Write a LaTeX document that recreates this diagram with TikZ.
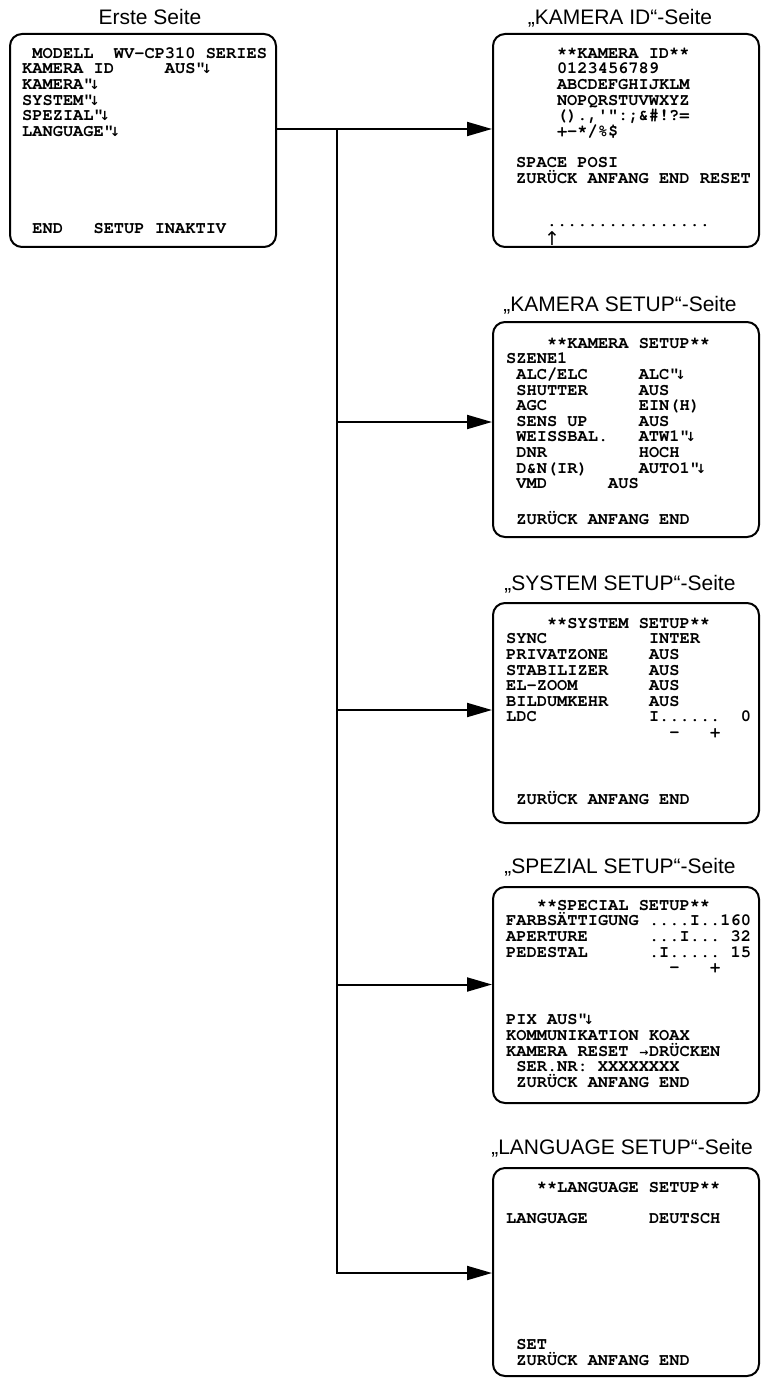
\documentclass[tikz,border=0pt]{standalone}
\usepackage{fontspec}
\setmainfont{Liberation Sans}
\setmonofont{texgyrecursor}[Extension=.otf, UprightFont=*-regular, BoldFont=*-bold]
\newfontfamily\arrfont{DejaVu Sans}
\usetikzlibrary{arrows.meta, positioning}

\newlength\cw
\setlength\cw{10.2pt}
\newcommand\ind[1]{\hspace*{#1\cw}}
\newcommand\ent{\makebox[\cw][l]{"\kern-4.2pt{\arrfont\bfseries\fontsize{12.5}{12}\selectfont ↓}}}
\newcommand\rarr{\makebox[\cw][c]{\arrfont\bfseries\fontsize{11}{11}\selectfont →}}

\tikzset{
  screen/.style={draw, line width=2pt, rounded corners=12pt, minimum width=266pt, inner sep=0pt},
  osd/.style={font={\ttfamily\bfseries\fontsize{17}{15.6}\selectfont\lineskiplimit=-\maxdimen\frenchspacing},
    align=left, inner sep=0pt, anchor=north west},
  pagetitle/.style={font=\fontsize{21}{24}\selectfont, inner sep=0pt, anchor=base},
  feed/.style={line width=2pt, -{Triangle[length=25pt, width=14pt]}},
}

\begin{document}
\begin{tikzpicture}[x=1pt, y=-1pt]
\useasboundingbox (0,0) rectangle (762,1380);

\node[pagetitle] (erste-t) at (150,24.5) {Erste Seite};
\node[screen, minimum height=213pt] (erste) at (143,140.5) {};
\node[osd] (erste-menu) at (22,47.1) {\strut\ind{1}MODELL~~WV-CP310~SERIES\\
  KAMERA~ID~~~~~AUS\ent\\
  KAMERA\ent\\
  SYSTEM\ent\\
  SPEZIAL\ent\\
  LANGUAGE\ent};
\node[osd] (erste-foot) at (22,222.1) {\strut\ind{1}END~~~SETUP~INAKTIV};

\node[pagetitle] (kid-t) at (620,24.5) {„KAMERA ID“-Seite};
\node[screen, minimum height=213pt] (kid) at (626,140.5) {};
\node[osd] (kid-chars) at (516,47.1) {\strut\ind{4}**KAMERA~ID**\\
  \ind{4}0123456789\\
  \ind{4}ABCDEFGHIJKLM\\
  \ind{4}NOPQRSTUVWXYZ\\
  \ind{4}().,'":;\&\#!?=\\
  \ind{4}+-*/\%\$\\[15.6pt]
  SPACE~POSI\\
  ZURÜCK~ANFANG~END~RESET};
\node[osd] (kid-dots) at (516,215.1) {\strut\ind{3}................};
\node[anchor=north, inner sep=0pt, font=\arrfont\fontsize{19}{19}\selectfont] (cursor) at (552,231) {↑};

\node[pagetitle] (kset-t) at (620,311.5) {„KAMERA SETUP“-Seite};
\node[screen, minimum height=215pt] (kset) at (626,429.5) {};
\node[osd] (kset-menu) at (506,337.1) {\strut\ind{4}**KAMERA~SETUP**\\
  SZENE1\\
  \ind{1}ALC/ELC~~~~~ALC\ent\\
  \ind{1}SHUTTER~~~~~AUS\\
  \ind{1}AGC~~~~~~~~~EIN(H)\\
  \ind{1}SENS~UP~~~~~AUS\\
  \ind{1}WEISSBAL.~~~ATW1\ent\\
  \ind{1}DNR~~~~~~~~~HOCH\\
  \ind{1}D\&N(IR)~~~~~AUTO1\ent\\
  \ind{1}VMD~~~~~~AUS};
\node[osd] (kset-foot) at (506,511.1) {\strut\ind{1}ZURÜCK~ANFANG~END};

\node[pagetitle] (sset-t) at (620,590.5) {„SYSTEM SETUP“-Seite};
\node[screen, minimum height=220pt] (sset) at (626,713) {};
\node[osd] (sset-menu) at (506,617.1) {\strut\ind{4}**SYSTEM~SETUP**\\
  SYNC~~~~~~~~~~INTER\\
  PRIVATZONE~~~~AUS\\
  STABILIZER~~~~AUS\\
  EL-ZOOM~~~~~~~AUS\\
  BILDUMKEHR~~~~AUS\\
  LDC~~~~~~~~~~~I......~~0\\
  \ind{16}-~~~+};
\node[osd] (sset-foot) at (506,791.1) {\strut\ind{1}ZURÜCK~ANFANG~END};

\node[pagetitle] (spset-t) at (620,873.5) {„SPEZIAL SETUP“-Seite};
\node[screen, minimum height=216pt] (spset) at (626,995) {};
\node[osd] (spset-menu) at (506,899.1) {\strut\ind{3}**SPECIAL~SETUP**\\
  FARBSÄTTIGUNG~....I..160\\
  APERTURE~~~~~~...I...~32\\
  PEDESTAL~~~~~~.I.....~15\\
  \ind{16}-~~~+};
\node[osd] (spset-foot) at (506,1013.7) {\strut PIX~AUS\ent\\
  KOMMUNIKATION~KOAX\\
  KAMERA~RESET~\rarr DRÜCKEN\\
  \ind{1}SER.NR:~XXXXXXXX\\
  \ind{1}ZURÜCK~ANFANG~END};

\node[pagetitle] (lset-t) at (622,1154.5) {„LANGUAGE SETUP“-Seite};
\node[screen, minimum height=208pt] (lset) at (626,1272) {};
\node[osd] (lset-menu) at (506,1181.1) {\strut\ind{3}**LANGUAGE~SETUP**\\[15.6pt]
  LANGUAGE~~~~~~DEUTSCH};
\node[osd] (lset-foot) at (506,1338.5) {\strut\ind{1}SET\\
  \ind{1}ZURÜCK~ANFANG~END};

\coordinate (hub) at (337,129);
\draw[feed] (erste.east |- hub) -- (kid.west |- hub);
\foreach \pg/\dy in {kset/7.5, sset/3, spset/10.5, lset/-1}
  \draw[feed] (hub) |- ([yshift=\dy pt]\pg.west);
\end{tikzpicture}
\end{document}
